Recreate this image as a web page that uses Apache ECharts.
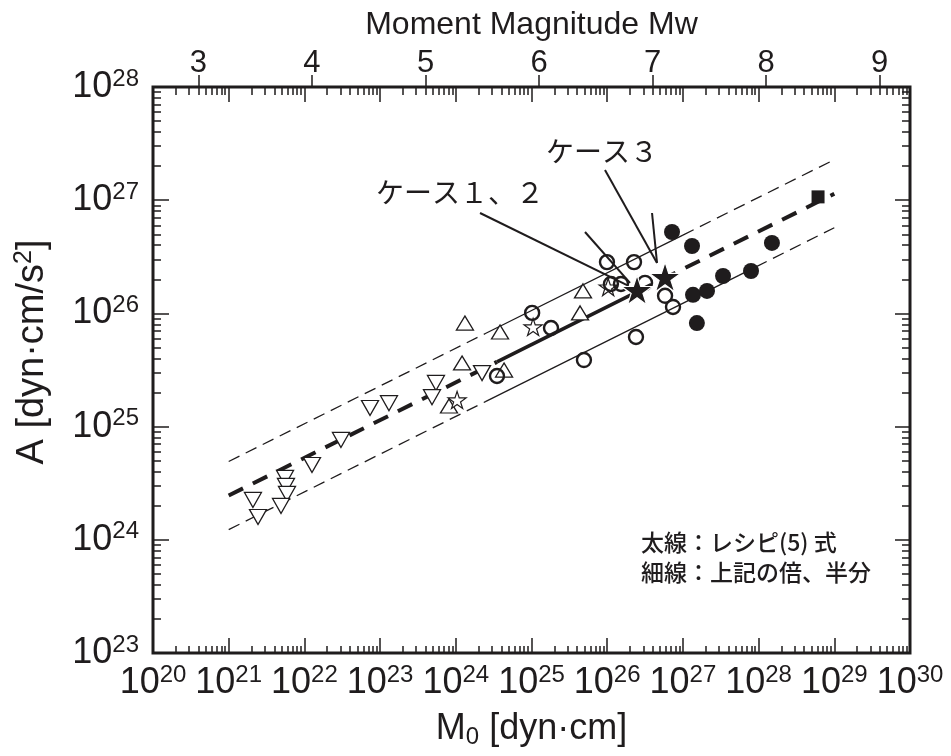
<!DOCTYPE html>
<html>
<head>
<meta charset="utf-8">
<title>A - M0</title>
<script src="https://cdn.jsdelivr.net/npm/echarts@6/dist/echarts.min.js"></script>
<style>
html, body { margin: 0; padding: 0; background: #fff; }
#chart { width: 951px; height: 756px; }
</style>
</head>
<body>
<div id="chart"></div>
<script>
// values, [M0 (dyn·cm), A (dyn·cm/s^2)]
var invTriangles = [
  [2.09e21, 2.25e24], [2.44e21, 1.59e24], [5.55e21, 3.52e24], [5.71e21, 2.99e24],
  [5.89e21, 2.54e24], [4.91e21, 1.99e24], [1.26e22, 4.58e24], [3.04e22, 7.62e24],
  [7.36e22, 1.46e25], [1.31e23, 1.61e25], [5.47e23, 2.43e25], [4.85e23, 1.82e25],
  [2.22e24, 2.97e25]
];
var triangles = [
  [1.32e24, 8.22e25], [3.84e24, 6.85e25], [1.21e24, 3.65e25], [4.34e24, 3.16e25],
  [8.13e23, 1.52e25], [4.38e25, 1.01e26], [4.79e25, 1.58e26]
];
var openStars = [[1.05e25, 7.59e25], [1.04e24, 1.72e25], [1.03e26, 1.71e26]];
var openCircles = [
  [1.02e25, 1.01e26], [1.81e25, 7.43e25], [3.50e24, 2.80e25], [4.93e25, 3.87e25],
  [9.93e25, 2.84e26], [2.26e26, 2.84e26], [1.12e26, 1.82e26], [1.52e26, 1.82e26],
  [3.16e26, 1.86e26], [5.81e26, 1.43e26], [7.40e26, 1.14e26], [2.40e26, 6.19e25]
];
var filledCircles = [
  [7.18e26, 5.24e26], [1.32e27, 3.94e26], [1.50e28, 4.19e26], [3.39e27, 2.14e26],
  [7.94e27, 2.37e26], [1.36e27, 1.46e26], [2.08e27, 1.58e26], [1.53e27, 8.22e25]
];
var filledSquare = [[6.10e28, 1.07e27]];
var caseStars = [[2.48e26, 1.61e26], [5.81e26, 2.10e26]];

// recipe eq.(5) (thick) and its x2 / x1/2 (thin), split into dashed / solid parts
var recipeDashL = [[1e21, 2.46e24], [3.5e24, 3.73e25]];
var recipeSolid = [[3.5e24, 3.73e25], [2.48e26, 1.55e26]];
var recipeDashR = [[2.48e26, 1.55e26], [1e29, 1.14e27]];
var upperDashL = [[1e21, 4.92e24], [2.5e24, 6.68e25]];
var upperSolid = [[2.5e24, 6.68e25], [1e27, 4.92e26]];
var upperDashR = [[1e27, 4.92e26], [1e29, 2.28e27]];
var lowerDashL = [[1e21, 1.23e24], [2.5e24, 1.67e25]];
var lowerSolid = [[2.5e24, 1.67e25], [5.5e27, 2.17e26]];
var lowerDashR = [[5.5e27, 2.17e26], [1e29, 5.71e26]];

// leader lines of the case labels
var pointer12a = [[2.09e24, 7.71e26], [1.83e26, 1.78e26]];
var pointer12b = [[5.09e25, 5.24e26], [2.00e26, 1.86e26]];
var pointer3a = [[9.35e25, 1.85e27], [4.55e26, 2.79e26]];
var pointer3b = [[3.91e26, 7.71e26], [4.55e26, 2.79e26]];

var xMajor = [1e20, 1e21, 1e22, 1e23, 1e24, 1e25, 1e26, 1e27, 1e28, 1e29, 1e30];
var yMajor = [1e23, 1e24, 1e25, 1e26, 1e27, 1e28];
var mwTicks = [3, 4, 5, 6, 7, 8, 9];

function minorTicks(from, to) {
  var out = [];
  for (var e = from; e < to; e++) {
    for (var k = 2; k <= 9; k++) out.push(k * Math.pow(10, e));
  }
  return out;
}
var xMinor = minorTicks(20, 30);
var yMinor = minorTicks(23, 28);

var ink = '#1f1c1d';
var latin = 'Liberation Sans';
var cjk = 'Noto Sans CJK JP';
var starPath = 'path://M50 0L61.23 34.55L97.55 34.55L68.17 55.9L79.39 90.45L50 69.1L20.61 90.45L31.83 55.9L2.45 34.55L38.77 34.55Z';

var powRich = {
  b: { fontSize: 36, lineHeight: 40, fontFamily: latin, color: ink },
  s: { fontSize: 24, lineHeight: 22, verticalAlign: 'top', fontFamily: latin, color: ink },
  u: { fontSize: 24, lineHeight: 22, verticalAlign: 'bottom', fontFamily: latin, color: ink }
};
function powLabel(v) {
  var e = Math.round(Math.log10(v));
  return '{b|10}{s|' + e + '}';
}

// max nudged a hair so that the 10^30 tick survives float rounding
function tickAxis(type, pos, vals, len, extra) {
  var ax = {
    type: 'log', logBase: 10, position: pos,
    axisLine: { show: false, onZero: false },
    axisTick: { show: true, inside: true, length: len, customValues: vals, lineStyle: { color: ink, width: 1.5 } },
    axisLabel: { show: false },
    splitLine: { show: false }
  };
  if (type === 'x') { ax.min = 1e20; ax.max = 1.000001e30; } else { ax.min = 1e23; ax.max = 1e28; }
  return Object.assign(ax, extra || {});
}

function lineSeries(data, width, dash) {
  return {
    type: 'line', data: data, symbol: 'none', silent: true, z: 1,
    lineStyle: { color: ink, width: width, type: dash || 'solid', cap: 'butt' }
  };
}

var chart = echarts.init(document.getElementById('chart'));

chart.setOption({
  animation: false,
  backgroundColor: '#fff',
  textStyle: { fontFamily: latin, color: ink },
  grid: { left: 153, right: 41, top: 87, bottom: 103, show: true, borderColor: ink, borderWidth: 3, backgroundColor: 'transparent' },
  xAxis: [
    tickAxis('x', 'bottom', xMajor, 15, {
      axisLabel: { show: true, customValues: xMajor, formatter: powLabel, rich: powRich, margin: 10 },
      name: '{b|M}{u|0}{b| [dyn·cm]}', nameLocation: 'middle', nameGap: 56,
      nameTextStyle: { rich: powRich }
    }),
    tickAxis('x', 'bottom', xMinor, 7),
    tickAxis('x', 'top', xMajor, 15),
    tickAxis('x', 'top', xMinor, 8),
    {
      type: 'value', position: 'top', min: 2.6, max: 9.2667,
      axisLine: { show: false, onZero: false },
      axisTick: { show: true, inside: false, length: 12, customValues: mwTicks, lineStyle: { color: ink, width: 1.5 } },
      axisLabel: { show: true, customValues: mwTicks, fontSize: 31, color: ink, margin: 8 },
      splitLine: { show: false },
      name: 'Moment Magnitude Mw', nameLocation: 'middle', nameGap: 46,
      nameTextStyle: { fontSize: 32, color: ink }
    }
  ],
  yAxis: [
    tickAxis('y', 'left', yMajor, 16, {
      axisLabel: { show: true, customValues: yMajor, formatter: powLabel, rich: powRich, margin: 14 }
    }),
    tickAxis('y', 'left', yMinor, 8),
    tickAxis('y', 'right', yMajor, 15),
    tickAxis('y', 'right', yMinor, 8)
  ],
  series: [
    lineSeries(recipeDashL, 4, [16, 11]),
    lineSeries(recipeSolid, 3.5),
    lineSeries(recipeDashR, 4, [16, 11]),
    lineSeries(upperDashL, 1.3, [12, 7]),
    lineSeries(upperSolid, 1.3),
    lineSeries(upperDashR, 1.3, [12, 7]),
    lineSeries(lowerDashL, 1.3, [12, 7]),
    lineSeries(lowerSolid, 1.3),
    lineSeries(lowerDashR, 1.3, [12, 7]),
    {
      type: 'scatter', data: invTriangles, symbol: 'triangle', symbolRotate: 180, symbolSize: [17, 15], z: 3,
      itemStyle: { color: '#fff', borderColor: ink, borderWidth: 1.3, opacity: 1 }
    },
    {
      type: 'scatter', data: triangles, symbol: 'triangle', symbolSize: [17, 14], z: 3,
      itemStyle: { color: '#fff', borderColor: ink, borderWidth: 1.3, opacity: 1 }
    },
    {
      type: 'scatter', data: openStars, symbol: starPath, symbolKeepAspect: true, symbolSize: 18, z: 3,
      itemStyle: { color: '#fff', borderColor: ink, borderWidth: 1.2, opacity: 1 }
    },
    {
      type: 'scatter', data: openCircles, symbol: 'circle', symbolSize: 14, z: 4,
      itemStyle: { color: 'rgba(255,255,255,0)', borderColor: ink, borderWidth: 2.4, opacity: 1 }
    },
    {
      type: 'scatter', data: filledCircles, symbol: 'circle', symbolSize: 16, z: 4,
      itemStyle: { color: ink, opacity: 1 }
    },
    {
      type: 'scatter', data: filledSquare, symbol: 'rect', symbolSize: 13, z: 4,
      itemStyle: { color: ink, opacity: 1 }
    },
    {
      type: 'scatter', data: caseStars, symbol: starPath, symbolKeepAspect: true, symbolSize: 31, z: 5,
      itemStyle: { color: ink, borderColor: '#fff', borderWidth: 1.2, opacity: 1 }
    },
    lineSeries(pointer12a, 2),
    lineSeries(pointer12b, 2),
    lineSeries(pointer3a, 2),
    lineSeries(pointer3b, 2)
  ],
  graphic: [
    {
      type: 'text', x: 33, y: 352, rotation: Math.PI / 2,
      style: {
        text: '{b|A [dyn·cm/s}{s|2}{b|]}', align: 'center', verticalAlign: 'middle',
        rich: {
          b: { fontSize: 38, lineHeight: 42, fontFamily: latin, fill: ink },
          s: { fontSize: 25, lineHeight: 23, verticalAlign: 'top', fontFamily: latin, fill: ink }
        }
      }
    },
    { type: 'text', x: 376, y: 192, style: { text: 'ケース１、２', fontSize: 28, fontFamily: cjk, fill: ink, verticalAlign: 'middle' } },
    { type: 'text', x: 546, y: 151, style: { text: 'ケース３', fontSize: 28, fontFamily: cjk, fill: ink, verticalAlign: 'middle' } },
    { type: 'text', x: 641, y: 542, style: { text: '太線：レシピ(5) 式', fontSize: 23, fontWeight: 500, fontFamily: cjk, fill: ink, verticalAlign: 'middle' } },
    { type: 'text', x: 641, y: 572, style: { text: '細線：上記の倍、半分', fontSize: 23, fontWeight: 500, fontFamily: cjk, fill: ink, verticalAlign: 'middle' } }
  ]
});
</script>
</body>
</html>
